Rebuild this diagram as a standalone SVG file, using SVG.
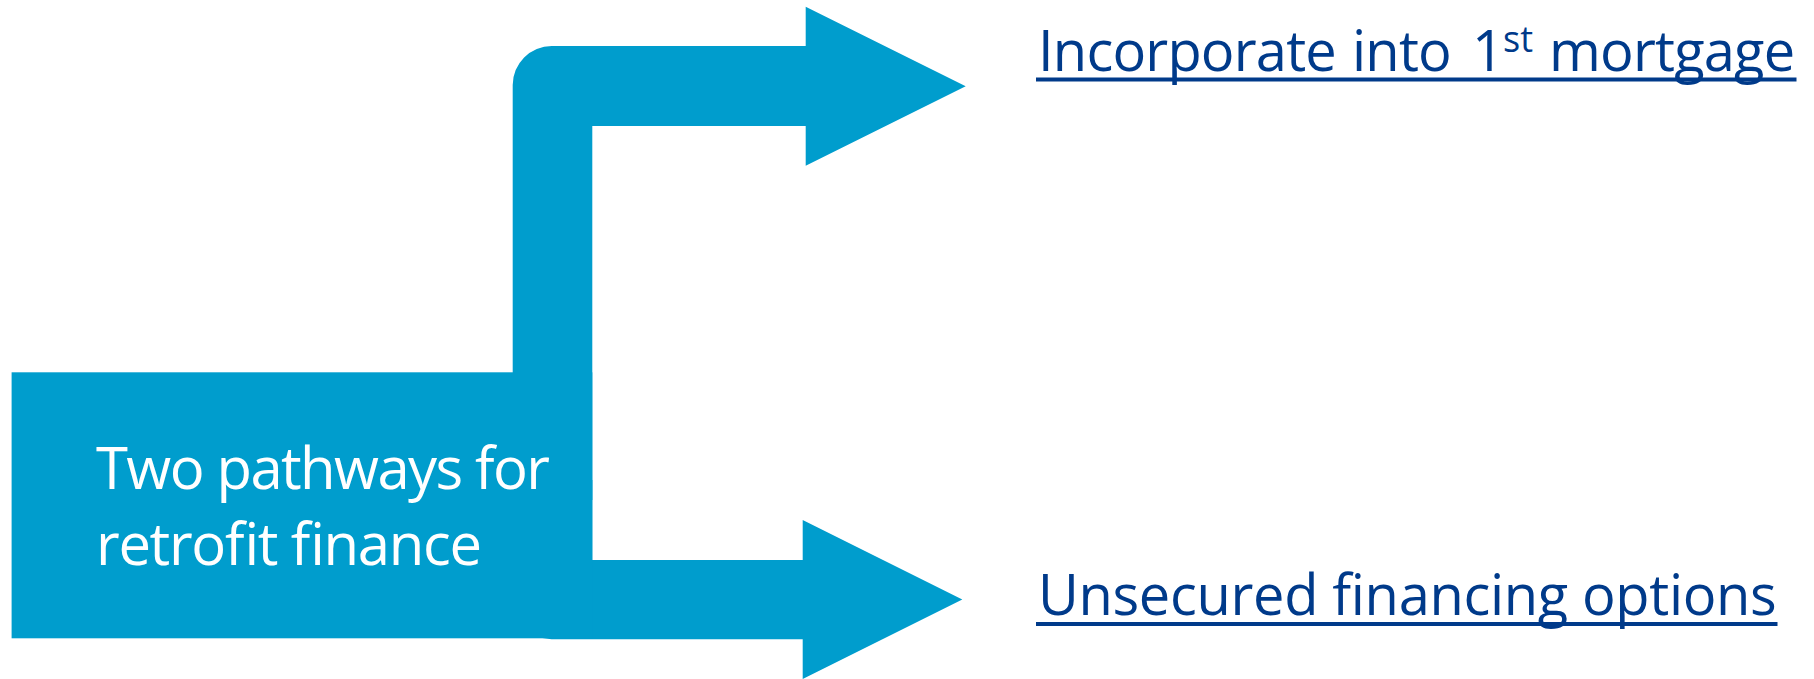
<svg xmlns="http://www.w3.org/2000/svg" width="1814" height="679" viewBox="0 0 1814 679">
  <style>
    .shape { fill: #009DCD; }
    .boxtext { fill: #FFFFFF; font-family: "Open Sans", "Liberation Sans", sans-serif; font-size: 58px; }
    .label { fill: #003A8A; font-family: "Open Sans", "Liberation Sans", sans-serif; font-size: 56px; letter-spacing: -0.8px; }
    .sup { font-size: 36px; letter-spacing: 0; }
    .uline { fill: #003A8A; }
  </style>
  <rect width="1814" height="679" fill="#FFFFFF"/>
  <g id="connectors">
    <path id="arrow-top" class="shape" d="M 512.7 500 L 512.7 85 A 39 39 0 0 1 551.7 46 L 805.7 46 L 805.7 6.7 L 965.7 86.3 L 805.7 165.7 L 805.7 126 L 592.3 126 L 592.3 500 Z"/>
    <path id="arrow-bottom" class="shape" d="M 592.3 480 L 592.3 560 L 802.7 560 L 802.7 520 L 962.3 599.5 L 802.7 679 L 802.7 639.3 L 551.5 639.3 A 39 39 0 0 1 512.5 600.3 L 512.5 480 Z"/>
  </g>
  <g id="node-source">
    <rect class="shape" x="11.6" y="372.3" width="580.7" height="266"/>
    <text class="boxtext" x="96" y="489" textLength="454" lengthAdjust="spacing">Two pathways for</text>
    <text class="boxtext" x="96" y="565" textLength="386" lengthAdjust="spacing">retrofit finance</text>
  </g>
  <g id="node-mortgage">
    <text class="label" x="1038" y="71">Incorporate<tspan x="1352">into</tspan><tspan x="1472">1</tspan><tspan class="sup" x="1503" y="52">st</tspan><tspan x="1549" y="71">mortgage</tspan></text>
    <rect class="uline" x="1036" y="77.5" width="760.5" height="4"/>
  </g>
  <g id="node-unsecured">
    <text class="label" x="1038" y="615" textLength="738" lengthAdjust="spacing">Unsecured financing options</text>
    <rect class="uline" x="1036" y="622" width="741.5" height="4"/>
  </g>
</svg>
